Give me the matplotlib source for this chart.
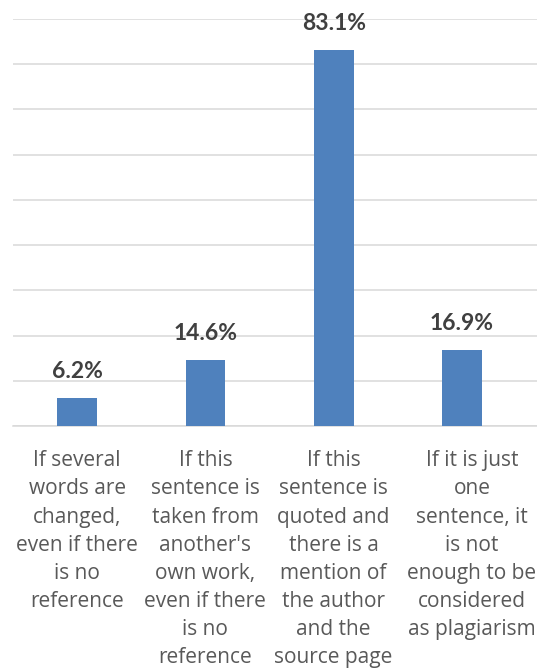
import matplotlib
matplotlib.use("Agg")
import matplotlib.pyplot as plt
from matplotlib.transforms import ScaledTranslation

categories = [
    "If several\nwords are\nchanged,\neven if there\nis no\nreference",
    "If this\nsentence is\ntaken from\nanother's\nown work,\neven if there\nis no\nreference",
    "If this\nsentence is\nquoted and\nthere is a\nmention of\nthe author\nand the\nsource page",
    "If it is just\none\nsentence, it\nis not\nenough to be\nconsidered\nas plagiarism",
]
values = [6.2, 14.6, 83.1, 16.9]
labels = ["6.2%", "14.6%", "83.1%", "16.9%"]

plt.rcParams['font.family'] = ['Open Sans', 'DejaVu Sans']

fig = plt.figure(figsize=(5.37, 6.72), dpi=100)
ax = fig.add_axes([13/537, 0.366, 1 - 13/537, 0.6057])

x = list(range(len(values)))
ax.bar(x, values, width=0.31, color="#4f81bd", zorder=3)
ax.set_ylim(0, 90)
ax.set_xlim(-0.5, 3.585)
ax.set_yticks(range(0, 91, 10))
ax.yaxis.grid(True, color="#d9d9d9", linewidth=1.1, zorder=0)
ax.tick_params(axis='y', left=False, labelleft=False)
ax.tick_params(axis='x', bottom=False, pad=14)
ax.set_xticks(x)
ax.set_xticklabels(categories, fontsize=15, color="#595959", linespacing=1.445)
for s in ["top", "right", "left"]:
    ax.spines[s].set_visible(False)
ax.spines["bottom"].set_color("#d9d9d9")
ax.spines["bottom"].set_linewidth(1.1)

# last category label sits slightly right of its bar in the reference
last = ax.get_xticklabels()[-1]
last.set_transform(last.get_transform() + ScaledTranslation(0.10, 0, fig.dpi_scale_trans))

for xi, v, lab in zip(x, values, labels):
    ax.annotate(lab, (xi, v), xytext=(0, 14.4), textcoords="offset points",
                ha="center", va="baseline", fontsize=16.5, fontweight="bold",
                color="#404040", family=['Lato', 'DejaVu Sans'])

fig.savefig("out.png", dpi=100)
